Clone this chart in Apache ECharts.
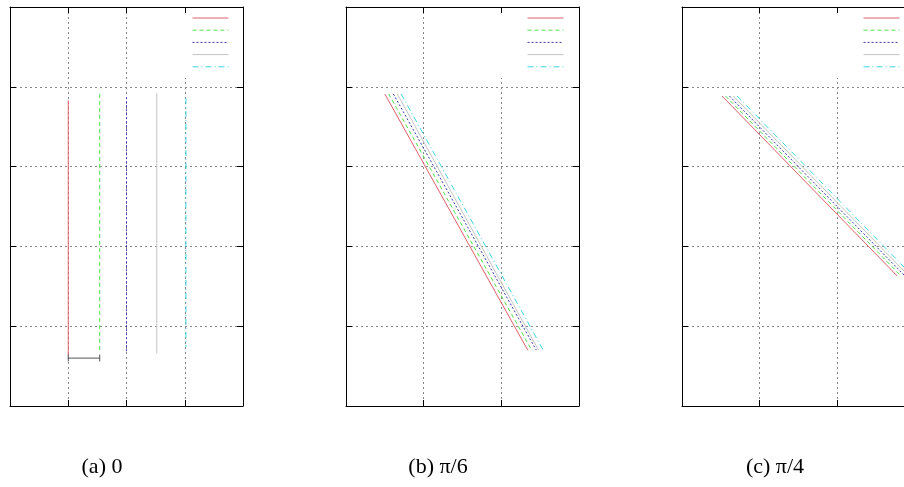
<!DOCTYPE html>
<html>
<head>
<meta charset="utf-8">
<script src="https://cdn.jsdelivr.net/npm/echarts@6/dist/echarts.min.js"></script>
<style>
  html, body { margin: 0; padding: 0; background: #fff; }
  #chart { width: 904px; height: 487px; }
</style>
</head>
<body>
<div id="chart"></div>
<script>
// five traces per panel, key labels are blank in the original
const seriesNames = ['t1', 't2', 't3', 't4', 't5'];
const captions = ['(a) 0', '(b) π/6', '(c) π/4'];
// panel (c) is cut by the page edge: its x range stops where the page ends
const xMax = [4, 3, 3 * 222 / 233];
const yMax = 5;

// (a) 0 : vertical traces
const aX = [1.0, 1.54, 2.0, 2.52, 3.02];
const aTop = [3.83, 3.91, 3.87, 3.92, 3.86];
const aBottom = [0.63, 0.70, 0.66, 0.66, 0.74];
// scale bar under the first two traces
const barX = [1.0, 1.54];
const barY = 0.60;

// (b) pi/6
const bStartX = [0.50, 0.55, 0.61, 0.66, 0.71];
const bStartY = [3.91, 3.91, 3.91, 3.91, 3.91];
const bEndX = [2.34, 2.39, 2.45, 2.48, 2.54];
const bEndY = [0.70, 0.70, 0.70, 0.70, 0.70];

// (c) pi/4
const cStartX = [0.515, 0.56, 0.61, 0.66, 0.71];
const cStartY = [3.885, 3.885, 3.885, 3.885, 3.885];
const cEndX = [2.77, 2.82, 2.87, 2.92, 2.97];
const cEndY = [1.63, 1.63, 1.63, 1.63, 1.63];

const colors = ['#e0606e', '#4fe04f', '#3a3aa8', '#c4c4c4', '#3fd6e0'];
const dashes = ['solid', [4, 3], [2, 2], 'solid', [6, 3, 1, 3]];

const panelLeft = [10, 346, 682];
const panelW = [233, 233, 222];
const panelTop = 7;
const panelH = 399;

const chart = echarts.init(document.getElementById('chart'), null, { renderer: 'canvas' });

const grid = panelLeft.map((l, i) => ({ left: l, top: panelTop, width: panelW[i], height: panelH }));

const tick = { show: true, inside: true, length: 6, lineStyle: { color: '#000', width: 1 } };
const line = { show: true, onZero: false, lineStyle: { color: '#000', width: 1 } };
const split = { show: true, lineStyle: { color: '#888', width: 1, type: [2, 3] } };

const xAxis = [];
const yAxis = [];
panelLeft.forEach((l, i) => {
  xAxis.push({ type: 'value', gridIndex: i, position: 'bottom', min: 0, max: xMax[i], interval: 1,
    axisLine: line, axisTick: tick, axisLabel: { show: false }, splitLine: split, z: 0 });
  xAxis.push({ type: 'value', gridIndex: i, position: 'top', min: 0, max: xMax[i], interval: 1,
    axisLine: line, axisTick: tick, axisLabel: { show: false }, splitLine: { show: false }, z: 3 });
  yAxis.push({ type: 'value', gridIndex: i, position: 'left', min: 0, max: yMax, interval: 1,
    axisLine: line, axisTick: tick, axisLabel: { show: false }, splitLine: split, z: 0 });
  yAxis.push({ type: 'value', gridIndex: i, position: 'right', min: 0, max: yMax, interval: 1,
    show: i < 2,
    axisLine: line, axisTick: tick, axisLabel: { show: false }, splitLine: { show: false }, z: 3 });
});

function trace(panel, k, pts) {
  return {
    name: seriesNames[k],
    type: 'line',
    xAxisIndex: panel * 2,
    yAxisIndex: panel * 2,
    data: pts,
    showSymbol: false,
    symbol: 'none',
    silent: true,
    animation: false,
    z: 2,
    lineStyle: { color: colors[k], width: 1, type: dashes[k] },
    itemStyle: { color: colors[k] }
  };
}

const series = [];
seriesNames.forEach((n, k) => {
  series.push(trace(0, k, [[aX[k], aTop[k]], [aX[k], aBottom[k]]]));
  series.push(trace(1, k, [[bStartX[k], bStartY[k]], [bEndX[k], bEndY[k]]]));
  series.push(trace(2, k, [[cStartX[k], cStartY[k]], [cEndX[k], cEndY[k]]]));
});
series.push({
  name: 'bar',
  type: 'line',
  xAxisIndex: 0,
  yAxisIndex: 0,
  data: [[barX[0], barY], [barX[1], barY]],
  symbol: 'rect',
  symbolSize: [1, 7],
  showSymbol: true,
  silent: true,
  animation: false,
  z: 2,
  lineStyle: { color: '#555', width: 1 },
  itemStyle: { color: '#555' }
});

const legendLeft = [192, 527, 863];
const legend = legendLeft.map(l => ({
  left: l,
  top: 14,
  padding: 0,
  orient: 'vertical',
  itemWidth: 36,
  itemHeight: 8,
  itemGap: 5,
  selectedMode: false,
  data: seriesNames,
  formatter: () => '',
  itemStyle: { opacity: 0 },
  lineStyle: { width: 1 },
  textStyle: { fontSize: 1 },
  z: 4
}));

const graphic = [];
panelLeft.forEach((l, i) => {
  // opaque key box hides the grid under the key
  graphic.push({ type: 'rect', z: 1, silent: true,
    shape: { x: l + 150, y: panelTop + 1, width: 82, height: 70 },
    style: { fill: '#fff' } });
});
const captionX = [102, 438, 775];
captions.forEach((t, i) => {
  graphic.push({ type: 'text', z: 5, x: captionX[i], y: 467, silent: true,
    style: { text: t, font: '22px "Liberation Serif", "DejaVu Serif", serif',
      fill: '#000', align: 'center', verticalAlign: 'middle' } });
});

chart.setOption({
  backgroundColor: '#fff',
  animation: false,
  grid,
  xAxis,
  yAxis,
  legend,
  series,
  graphic
});
</script>
</body>
</html>
